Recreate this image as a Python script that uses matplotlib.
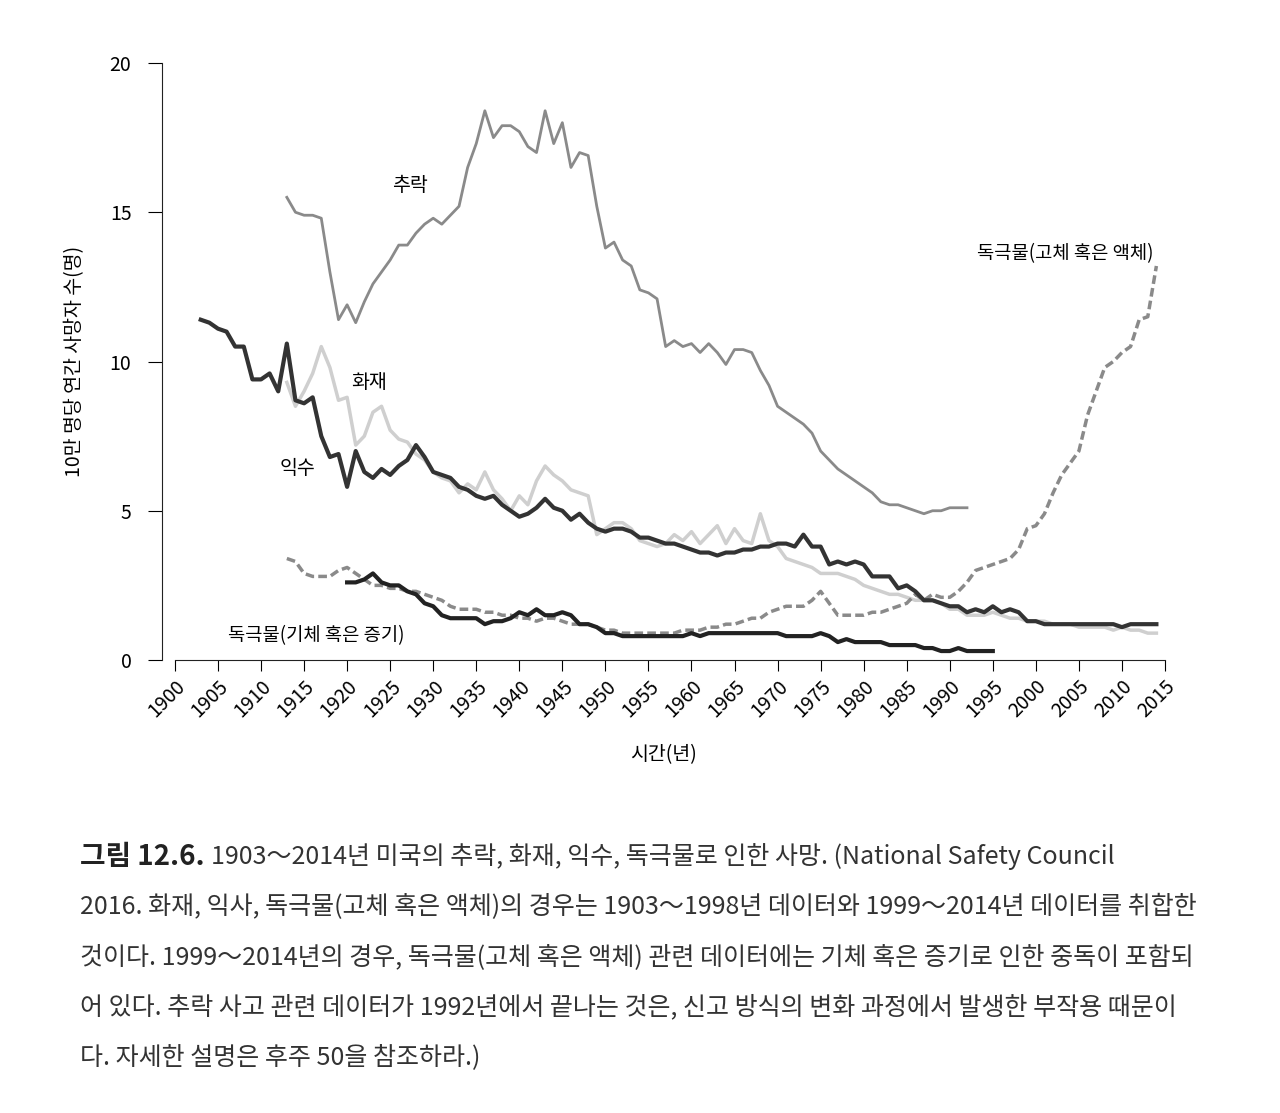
import matplotlib
matplotlib.use("Agg")
import matplotlib.pyplot as plt
import numpy as np

plt.rcParams['font.family'] = ['Noto Sans CJK KR', 'DejaVu Sans']

falls_years = list(range(1913, 1993))
falls = [15.5,15.0,14.9,14.9,14.8,13.0,11.4,11.9,11.3,12.0,12.6,13.0,13.4,13.9,13.9,14.3,14.6,14.8,14.6,14.9,
         15.2,16.5,17.3,18.4,17.5,17.9,17.9,17.7,17.2,17.0,18.4,17.3,18.0,16.5,17.0,16.9,15.2,13.8,14.0,13.4,
         13.2,12.4,12.3,12.1,10.5,10.7,10.5,10.6,10.3,10.6,10.3,9.9,10.4,10.4,10.3,9.7,9.2,8.5,8.3,8.1,
         7.9,7.6,7.0,6.7,6.4,6.2,6.0,5.8,5.6,5.3,5.2,5.2,5.1,5.0,4.9,5.0,5.0,5.1,5.1,5.1]

drown_years = list(range(1903, 2015))
drown = [11.4,11.3,11.1,11.0,10.5,10.5,9.4,9.4,9.6,9.0,10.6,8.7,8.6,8.8,7.5,6.8,6.9,5.8,7.0,6.3,
         6.1,6.4,6.2,6.5,6.7,7.2,6.8,6.3,6.2,6.1,5.8,5.7,5.5,5.4,5.5,5.2,5.0,4.8,4.9,5.1,
         5.4,5.1,5.0,4.7,4.9,4.6,4.4,4.3,4.4,4.4,4.3,4.1,4.1,4.0,3.9,3.9,3.8,3.7,3.6,3.6,
         3.5,3.6,3.6,3.7,3.7,3.8,3.8,3.9,3.9,3.8,4.2,3.8,3.8,3.2,3.3,3.2,3.3,3.2,2.8,2.8,
         2.8,2.4,2.5,2.3,2.0,2.0,1.9,1.8,1.8,1.6,1.7,1.6,1.8,1.6,1.7,1.6,1.3,1.3,1.2,1.2,
         1.2,1.2,1.2,1.2,1.2,1.2,1.2,1.1,1.2,1.2,1.2,1.2]

fire_years = list(range(1913, 2015))
fire = [9.3,8.5,9.0,9.6,10.5,9.8,8.7,8.8,7.2,7.5,8.3,8.5,7.7,7.4,7.3,6.9,6.7,6.3,6.1,6.0,
        5.6,5.9,5.7,6.3,5.7,5.4,5.0,5.5,5.2,6.0,6.5,6.2,6.0,5.7,5.6,5.5,4.2,4.4,4.6,4.6,
        4.4,4.0,3.9,3.8,3.9,4.2,4.0,4.3,3.9,4.2,4.5,3.9,4.4,4.0,3.9,4.9,4.0,3.8,3.4,3.3,
        3.2,3.1,2.9,2.9,2.9,2.8,2.7,2.5,2.4,2.3,2.2,2.2,2.1,2.0,2.0,2.0,1.9,1.7,1.7,1.5,
        1.5,1.5,1.6,1.5,1.4,1.4,1.3,1.3,1.3,1.2,1.2,1.2,1.1,1.1,1.1,1.1,1.0,1.1,1.0,1.0,
        0.9,0.9]

poison_years = list(range(1913, 2015))
poison = [3.4,3.3,2.9,2.8,2.8,2.8,3.0,3.1,2.9,2.7,2.5,2.5,2.4,2.4,2.3,2.3,2.2,2.1,2.0,1.8,
          1.7,1.7,1.7,1.6,1.6,1.5,1.5,1.4,1.4,1.3,1.4,1.4,1.3,1.2,1.2,1.2,1.1,1.0,1.0,0.9,
          0.9,0.9,0.9,0.9,0.9,0.9,1.0,1.0,1.0,1.1,1.1,1.2,1.2,1.3,1.4,1.4,1.6,1.7,1.8,1.8,
          1.8,2.0,2.3,1.9,1.5,1.5,1.5,1.5,1.6,1.6,1.7,1.8,1.9,2.2,2.0,2.2,2.1,2.1,2.3,2.6,
          3.0,3.1,3.2,3.3,3.4,3.7,4.4,4.5,4.9,5.6,6.2,6.6,7.0,8.2,9.0,9.8,10.0,10.3,10.5,11.4,
          11.5,13.2]

gas_years = list(range(1920, 1996))
gas = [2.6,2.6,2.7,2.9,2.6,2.5,2.5,2.3,2.2,1.9,1.8,1.5,1.4,1.4,1.4,1.4,1.2,1.3,1.3,1.4,
       1.6,1.5,1.7,1.5,1.5,1.6,1.5,1.2,1.2,1.1,0.9,0.9,0.8,0.8,0.8,0.8,0.8,0.8,0.8,0.8,
       0.9,0.8,0.9,0.9,0.9,0.9,0.9,0.9,0.9,0.9,0.9,0.8,0.8,0.8,0.8,0.9,0.8,0.6,0.7,0.6,
       0.6,0.6,0.6,0.5,0.5,0.5,0.5,0.4,0.4,0.3,0.3,0.4,0.3,0.3,0.3,0.3]

xticks = list(range(1900, 2016, 5))

fig = plt.figure(figsize=(12.8, 11.13), dpi=100)
ax = fig.add_axes([162/1280, 453/1113, 1003/1280, 597/1113])
ax.plot(falls_years, falls, color='#8a8a8a', lw=2)
ax.plot(fire_years, fire, color='#cfcfcf', lw=2.5)
ax.plot(poison_years, poison, color='#8a8a8a', lw=2.5, ls=(0, (2.5, 1.2)))
ax.plot(drown_years, drown, color='#333333', lw=3)
ax.plot(gas_years, gas, color='#222222', lw=3)

ax.set_xlim(1898.5, 2015)
ax.set_ylim(0, 20)
for s in ['top', 'right']:
    ax.spines[s].set_visible(False)
ax.spines['bottom'].set_bounds(1900, 2015)
ax.spines['left'].set_color('#222'); ax.spines['bottom'].set_color('#222')
ax.set_xticks(xticks)
ax.set_xticklabels([str(t) for t in xticks], rotation=45, ha='right', rotation_mode='anchor', fontsize=14)
ax.set_yticks([0, 5, 10, 15, 20])
ax.tick_params(axis='y', labelsize=14, length=10, pad=12)
ax.tick_params(axis='x', length=8)
ax.set_ylabel('10만 명당 연간 사망자 수(명)', fontsize=14, labelpad=18)
ax.set_xlabel('시간(년)', fontsize=14, labelpad=16)

ax.text(1927.3, 15.9, '추락', fontsize=14, ha='center', va='center')
ax.text(1922.6, 9.3, '화재', fontsize=14, ha='center', va='center')
ax.text(1914.2, 6.4, '익수', fontsize=14, ha='center', va='center')
ax.text(1916.4, 0.8, '독극물(기체 혹은 증기)', fontsize=13.5, ha='center', va='center')
ax.text(2003.4, 13.6, '독극물(고체 혹은 액체)', fontsize=13.5, ha='center', va='center')

lines = [
    '1903～2014년 미국의 추락, 화재, 익수, 독극물로 인한 사망. (National Safety Council',
    '2016. 화재, 익사, 독극물(고체 혹은 액체)의 경우는 1903～1998년 데이터와 1999～2014년 데이터를 취합한',
    '것이다. 1999～2014년의 경우, 독극물(고체 혹은 액체) 관련 데이터에는 기체 혹은 증기로 인한 중독이 포함되',
    '어 있다. 추락 사고 관련 데이터가 1992년에서 끝나는 것은, 신고 방식의 변화 과정에서 발생한 부작용 때문이',
    '다. 자세한 설명은 후주 50을 참조하라.)',
]
ys = [857, 907, 957, 1007, 1057]
bold = fig.text(80/1280, 1 - ys[0]/1113, '그림 12.6.', fontsize=20, fontweight='bold', va='center', color='#222')
fig.canvas.draw()
bb = bold.get_window_extent()
fig.text((bb.x1 + 6)/1280, 1 - ys[0]/1113, lines[0], fontsize=18, va='center', color='#333')
for t, y in zip(lines[1:], ys[1:]):
    fig.text(80/1280, 1 - y/1113, t, fontsize=18, va='center', color='#333')

fig.savefig('out.png', dpi=100)
